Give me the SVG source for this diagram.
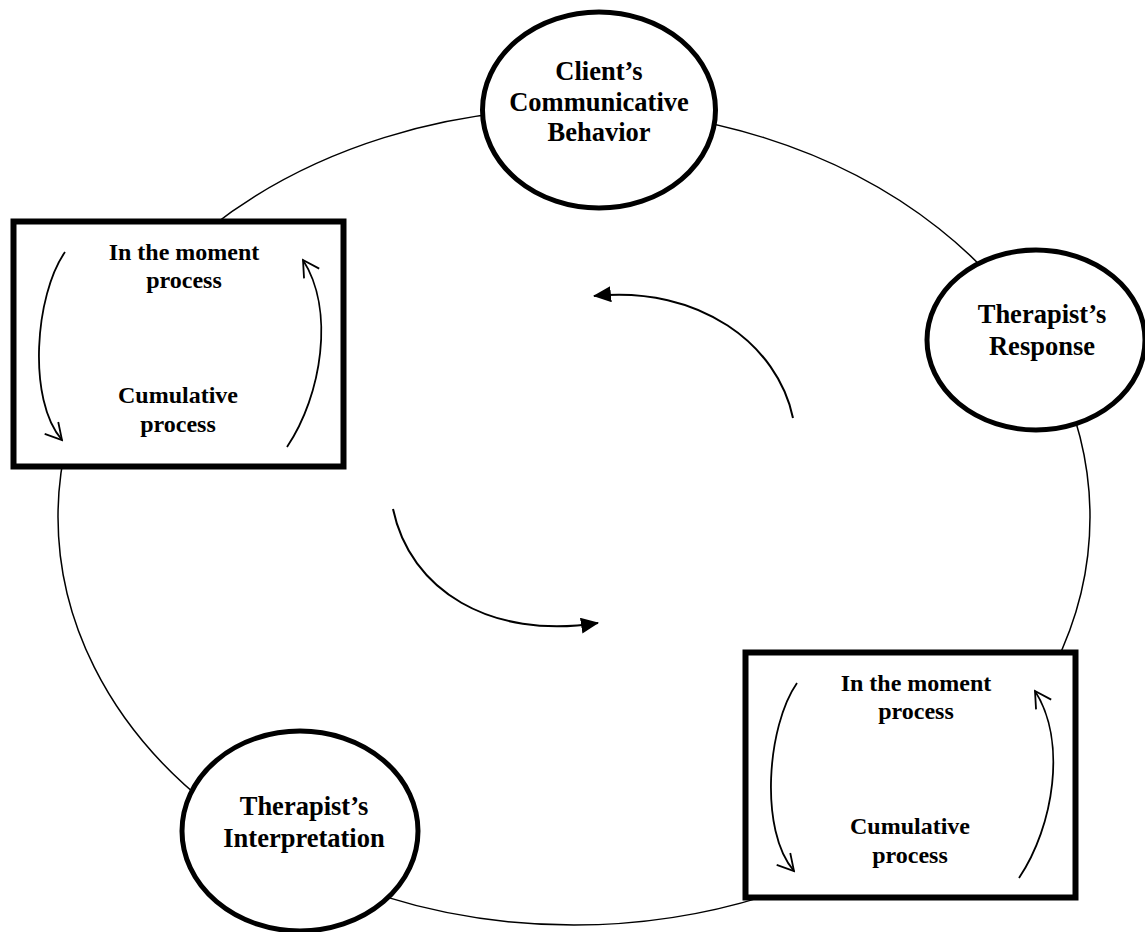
<svg xmlns="http://www.w3.org/2000/svg" width="1145" height="932" viewBox="0 0 1145 932">
<style>
.node{fill:#fff;stroke:#000;stroke-width:5}
.box{fill:#fff;stroke:#000;stroke-width:6}
.lbl{font-family:"Liberation Serif","Times New Roman",serif;font-weight:bold;font-size:26.5px;fill:#000;text-anchor:middle}
.blbl{font-family:"Liberation Serif","Times New Roman",serif;font-weight:bold;font-size:24px;fill:#000;text-anchor:middle}
.ring{fill:none;stroke:#000;stroke-width:1.5}
.arc{fill:none;stroke:#000;stroke-width:2}
.oarc{fill:none;stroke:#000;stroke-width:1.8;marker-end:url(#open)}
</style>
<defs>
<marker id="solid" markerUnits="userSpaceOnUse" markerWidth="18" markerHeight="16" refX="17" refY="8" orient="auto" viewBox="0 0 18 16"><path d="M0,0 L18,8 L0,16 z" fill="#000"/></marker>
<marker id="open" markerUnits="userSpaceOnUse" markerWidth="20" markerHeight="20" refX="18" refY="10" orient="auto" viewBox="0 0 20 20"><path d="M2,1 L18,10 L2,19" fill="none" stroke="#000" stroke-width="1.8"/></marker>
</defs>
<rect width="1145" height="932" fill="#fff"/>
<g id="connectors">
<ellipse class="ring" cx="574" cy="517" rx="516" ry="408"/>
<path class="arc" d="M793,418 C778,345 700,285 594,296" marker-end="url(#solid)"/>
<path class="arc" d="M393,509 C410,590 490,640 598,623" marker-end="url(#solid)"/>
</g>
<g id="client">
<ellipse class="node" cx="599" cy="110" rx="116.5" ry="98"/>
<text class="lbl" x="599" y="80">Client’s</text>
<text class="lbl" x="599" y="111">Communicative</text>
<text class="lbl" x="599" y="141">Behavior</text>
</g>
<g id="response">
<ellipse class="node" cx="1036" cy="340" rx="109" ry="90"/>
<text class="lbl" x="1042" y="323">Therapist’s</text>
<text class="lbl" x="1042" y="355">Response</text>
</g>
<g id="interpretation">
<ellipse class="node" cx="300" cy="831" rx="118" ry="100"/>
<text class="lbl" x="304" y="815">Therapist’s</text>
<text class="lbl" x="304" y="847">Interpretation</text>
</g>
<g id="process-left">
<rect class="box" x="13.5" y="221.5" width="330" height="245"/>
<text class="blbl" x="184" y="260">In the moment</text>
<text class="blbl" x="184" y="288">process</text>
<text class="blbl" x="178" y="403">Cumulative</text>
<text class="blbl" x="178" y="432">process</text>
<path class="oarc" d="M65,252 C35,295 27,400 62,440"/>
<path class="oarc" d="M287,447 C322,395 335,310 303,260"/>
</g>
<g id="process-right">
<rect class="box" x="745.5" y="652.5" width="330" height="245"/>
<text class="blbl" x="916" y="691">In the moment</text>
<text class="blbl" x="916" y="719">process</text>
<text class="blbl" x="910" y="834">Cumulative</text>
<text class="blbl" x="910" y="863">process</text>
<path class="oarc" d="M797,683 C767,726 759,831 794,871"/>
<path class="oarc" d="M1019,878 C1054,826 1067,741 1035,691"/>
</g>
</svg>
